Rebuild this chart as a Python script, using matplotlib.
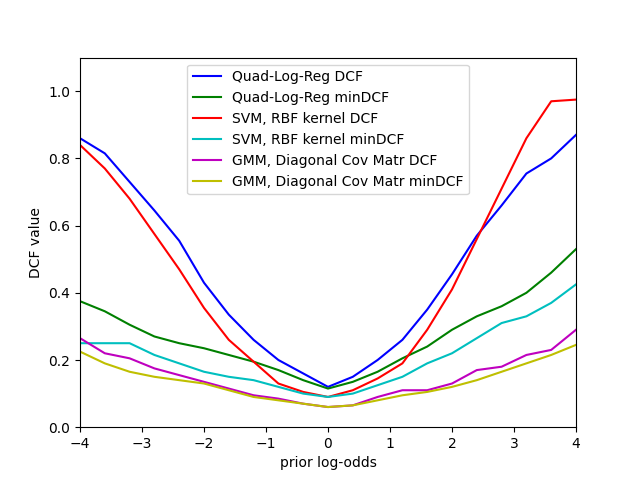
import matplotlib
matplotlib.use('Agg')
import matplotlib.pyplot as plt
import numpy as np

prior_log_odds = np.linspace(-4, 4, 21)

qlr_dcf = [0.86, 0.815, 0.73, 0.645, 0.555, 0.43, 0.335, 0.26, 0.2, 0.16, 0.12,
           0.15, 0.2, 0.26, 0.35, 0.455, 0.57, 0.66, 0.755, 0.8, 0.87]
qlr_min = [0.375, 0.345, 0.305, 0.27, 0.25, 0.235, 0.215, 0.195, 0.17, 0.14, 0.115,
           0.135, 0.165, 0.205, 0.24, 0.29, 0.33, 0.36, 0.4, 0.46, 0.53]
svm_dcf = [0.84, 0.77, 0.68, 0.575, 0.47, 0.355, 0.26, 0.195, 0.13, 0.105, 0.09,
           0.11, 0.145, 0.19, 0.29, 0.41, 0.56, 0.71, 0.86, 0.97, 0.975]
svm_min = [0.25, 0.25, 0.25, 0.215, 0.19, 0.165, 0.15, 0.14, 0.12, 0.1, 0.09,
           0.1, 0.125, 0.15, 0.19, 0.22, 0.265, 0.31, 0.33, 0.37, 0.425]
gmm_dcf = [0.265, 0.22, 0.205, 0.175, 0.155, 0.135, 0.115, 0.095, 0.085, 0.07, 0.06,
           0.065, 0.09, 0.11, 0.11, 0.13, 0.17, 0.18, 0.215, 0.23, 0.29]
gmm_min = [0.225, 0.19, 0.165, 0.15, 0.14, 0.13, 0.11, 0.09, 0.08, 0.07, 0.06,
           0.065, 0.08, 0.095, 0.105, 0.12, 0.14, 0.165, 0.19, 0.215, 0.245]

plt.figure(figsize=(6.4, 4.8))
plt.plot(prior_log_odds, qlr_dcf, color='b', label='Quad-Log-Reg DCF')
plt.plot(prior_log_odds, qlr_min, color='g', label='Quad-Log-Reg minDCF')
plt.plot(prior_log_odds, svm_dcf, color='r', label='SVM, RBF kernel DCF')
plt.plot(prior_log_odds, svm_min, color='c', label='SVM, RBF kernel minDCF')
plt.plot(prior_log_odds, gmm_dcf, color='m', label='GMM, Diagonal Cov Matr DCF')
plt.plot(prior_log_odds, gmm_min, color='y', label='GMM, Diagonal Cov Matr minDCF')

plt.ylim(0, 1.1)
plt.xlim(-4, 4)
plt.xlabel('prior log-odds')
plt.ylabel('DCF value')
plt.legend(loc='upper center')

plt.savefig('out.png', dpi=100)
plt.close()
